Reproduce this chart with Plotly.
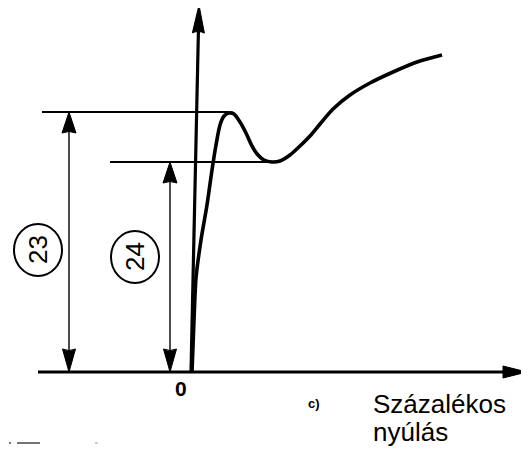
import math
import plotly.graph_objects as go

# ---- data (strain offset from origin, stress) ----
strain = [0, 2, 4, 9, 15, 20, 24, 28, 32, 37, 42, 48, 54, 60, 66, 72, 80, 88,
          98, 108, 118, 128, 141, 158, 178, 201, 225, 250]
stress = [0, 52, 94, 132, 167, 202, 227, 247, 256, 259, 258, 250, 239, 226,
          217, 212, 210, 211, 217, 226, 236, 248, 263, 277, 289, 300, 310, 317]
upper_yield = 260
lower_yield = 210
dim_labels = ["23", "24"]
origin_label = "0"
panel_label = "c)"
x_title = ["Százalékos", "nyúlás"]

fig = go.Figure()

fig.add_trace(go.Scatter(
    x=strain, y=stress, mode="lines",
    line=dict(color="black", width=3.6, shape="spline", smoothing=0.7),
    hoverinfo="skip", showlegend=False))

shapes = []


def line(x0, y0, x1, y1, w):
    shapes.append(dict(type="line", xref="x", yref="y", x0=x0, y0=y0, x1=x1, y1=y1,
                       line=dict(color="black", width=w)))


def head(tx, ty, x_from, y_from, length, half):
    dx, dy = tx - x_from, ty - y_from
    n = math.hypot(dx, dy)
    ux, uy = dx / n, dy / n
    bx, by = tx - ux * length, ty - uy * length
    px, py = -uy * half, ux * half
    path = (f"M {tx},{ty} L {bx + px},{by + py} "
            f"Q {bx},{by + uy * 3} {bx - px},{by - py} Z")
    shapes.append(dict(type="path", xref="x", yref="y", path=path,
                       fillcolor="black", line=dict(color="black", width=1)))


# axes
x_end = 335
line(-154, 0, x_end - 20, 0, 3)
head(x_end, 0, -154, 0, 24, 6)
y_top = (7, 367)
ybx = -1 + (y_top[0] + 1) * (1 - 27 / 367)
line(-1, 0, ybx, y_top[1] - 26, 3.2)
head(y_top[0], y_top[1], -1, 0, 28, 6)

# yield level lines
line(-150, upper_yield, 37, upper_yield, 2)
line(-82, lower_yield, 80, lower_yield, 2)

# dimension arrows
for xd, top in [(-123, upper_yield), (-22, lower_yield)]:
    line(xd, 18, xd, top - 18, 1.4)
    head(xd, top, xd, 0, 21, 7)
    head(xd, 0, xd, top, 23, 6.5)

# circles with labels
circ = [(-154, 122, dim_labels[0]), (-57, 115, dim_labels[1])]
for cx, cy, lab in circ:
    shapes.append(dict(type="circle", xref="x", yref="y",
                       x0=cx - 24, x1=cx + 24, y0=cy - 26, y1=cy + 26,
                       line=dict(color="black", width=2)))
    fig.add_annotation(x=cx, y=cy, xref="x", yref="y", text=lab, showarrow=False,
                       textangle=-90, font=dict(family="Liberation Sans", size=26,
                                                color="black"))

# scan marks bottom left
shapes.append(dict(type="line", xref="x", yref="y", x0=-175, x1=-152, y0=-71, y1=-71,
                   line=dict(color="#444", width=1.5)))
shapes.append(dict(type="line", xref="x", yref="y", x0=-183, x1=-181, y0=-71, y1=-71,
                   line=dict(color="#444", width=1.5)))
shapes.append(dict(type="line", xref="x", yref="y", x0=-97, x1=-94, y0=-71, y1=-71,
                   line=dict(color="#999", width=1)))

fig.add_annotation(x=-11, y=-16, xref="x", yref="y", text="<b>" + origin_label + "</b>",
                   showarrow=False,
                   font=dict(family="Liberation Sans Narrow, Liberation Sans", size=21,
                             color="black"))
fig.add_annotation(x=122, y=-31, xref="x", yref="y", text="<b>" + panel_label + "</b>",
                   showarrow=False,
                   font=dict(family="Liberation Sans", size=13, color="black"))
fig.add_annotation(x=179, y=-32, xref="x", yref="y", text=x_title[0], showarrow=False,
                   xanchor="left", font=dict(family="Liberation Sans", size=26, color="black"))
fig.add_annotation(x=179, y=-60, xref="x", yref="y", text=x_title[1], showarrow=False,
                   xanchor="left", font=dict(family="Liberation Sans", size=26, color="black"))

# the page body adds an 8px offset, so ranges are shifted to compensate
fig.update_layout(
    width=529, height=452, margin=dict(l=0, r=0, t=0, b=0),
    paper_bgcolor="white", plot_bgcolor="white", shapes=shapes,
    xaxis=dict(range=[-184, 345], visible=False, fixedrange=True),
    yaxis=dict(range=[-88, 364], visible=False, fixedrange=True),
)
fig.write_html("out.html")
